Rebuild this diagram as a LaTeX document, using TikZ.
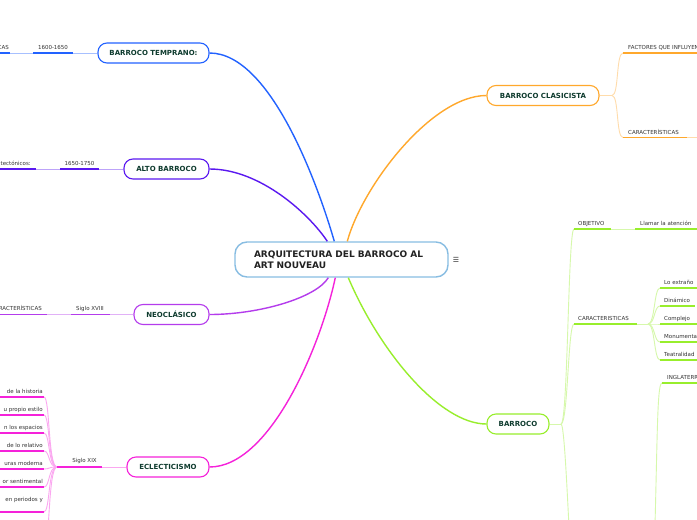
\documentclass[tikz,border=0pt]{standalone}
\usepackage{fontspec}
\setmainfont{DejaVu Sans}
\usetikzlibrary{calc}
\definecolor{cblue}{HTML}{2262FF}
\definecolor{cindigo}{HTML}{5A18F0}
\definecolor{cpurple}{HTML}{B43CEC}
\definecolor{cmag}{HTML}{F522DA}
\definecolor{corange}{HTML}{FFA82C}
\definecolor{cgreen}{HTML}{98EE2C}
\definecolor{ccenter}{HTML}{88BDE2}
\definecolor{ntext}{HTML}{0E3B2E}
\definecolor{ctext}{HTML}{222222}
\definecolor{ltext}{HTML}{333333}
\tikzset{
 branch/.style={draw=#1, line width=1.1pt, rounded corners=9pt, fill=white, minimum height=20pt, inner xsep=0pt, font=\bfseries\fontsize{7}{8}\selectfont, text=ntext},
 mainlink/.style={draw=#1, line width=1.4pt},
 ul/.style={draw=#1, line width=1.8pt},
 lk/.style={draw=#1!40, line width=0.9pt},
 lbl/.style={font=\fontsize{5.5}{6.6}\selectfont, text=ltext, inner sep=0pt},
}
\begin{document}
\begin{tikzpicture}[x=1pt,y=-1pt]
\useasboundingbox (0,0) rectangle (697,520);
\clip (0,0) rectangle (697,520);
\fill[white] (0,0) rectangle (697,520);

% central node
\node[draw=ccenter, line width=1.4pt, rounded corners=12pt, fill=white, text width=175pt, inner xsep=19pt, minimum height=35pt, align=left, font=\bfseries\fontsize{9}{10.7}\selectfont, text=ctext] (c) at (341.5,259.5) {ARQUITECTURA DEL BARROCO AL\\ART NOUVEAU};
\node[font=\fontsize{7}{8}\selectfont, text=ltext, inner sep=0pt] (menu) at (456,260) {☰};

% branch nodes
\node[branch=cblue, minimum width=111pt] (bt) at (153.5,53) {BARROCO TEMPRANO:};
\node[branch=cindigo, minimum width=85pt] (ab) at (166.5,169) {ALTO BARROCO};
\node[branch=cpurple, minimum width=75pt] (neo) at (171.5,314.5) {NEOCLÁSICO};
\node[branch=cmag, minimum width=82pt] (ecl) at (168,467) {ECLECTICISMO};
\node[branch=corange, minimum width=112pt] (bc) at (543,95.5) {BARROCO CLASICISTA};
\node[branch=cgreen, minimum width=62pt] (bar) at (518,424) {BARROCO};

% anchor points on the central node
\coordinate (cbt) at ($(c.north west)+(100,0)$);
\coordinate (cab) at ($(c.north west)+(93,0)$);
\coordinate (cbc) at ($(c.north west)+(113,0)$);
\coordinate (cneo) at ($(c.south west)+(94,0)$);
\coordinate (cecl) at ($(c.south west)+(101,0)$);
\coordinate (cbar) at ($(c.south west)+(114,0)$);

% main curves
\draw[mainlink=cblue] (bt.east) .. controls +(62,0) and +(-15,-52) .. (cbt);
\draw[mainlink=cindigo] (ab.east) .. controls +(51,0) and +(-18,-27) .. (cab);
\draw[mainlink=cpurple] (neo.east) .. controls +(50,0) and +(-12,20) .. (cneo);
\draw[mainlink=cmag] (ecl.east) .. controls +(60,0) and +(-15,70) .. (cecl);
\draw[mainlink=corange] (cbc) .. controls +(15,-55) and +(-55,0) .. (bc.west);
\draw[mainlink=cgreen] (cbar) .. controls +(31,73) and +(-47,0) .. (bar.west);

% ---------- BARROCO TEMPRANO ----------
\node[lbl, anchor=base] (bt1) at (53,49.5) {1600-1650};
\coordinate (bt1l) at (33,53); \coordinate (bt1r) at (73,53);
\node[lbl, anchor=base east] (bt2) at (9,49.5) {CARACTERÍSTICAS};
\coordinate (bt2l) at (-80,53); \coordinate (bt2r) at (9.5,53);
\draw[lk=cblue] (bt.west) -- (bt1r);
\draw[lk=cblue] (bt1l) -- (bt2r);
\draw[ul=cblue] (bt1l) -- (bt1r);
\draw[ul=cblue] (bt2l) -- (bt2r);

% ---------- ALTO BARROCO ----------
\node[lbl, anchor=base] (ab1) at (79.5,165.5) {1650-1750};
\coordinate (ab1l) at (60,169); \coordinate (ab1r) at (99,169);
\node[lbl, anchor=base east] (ab2) at (31,165.5) {Elementos arquitectónicos:};
\coordinate (ab2l) at (-90,169); \coordinate (ab2r) at (36,169);
\draw[lk=cindigo] (ab.west) -- (ab1r);
\draw[lk=cindigo] (ab1l) -- (ab2r);
\draw[ul=cindigo] (ab1l) -- (ab1r);
\draw[ul=cindigo] (ab2l) -- (ab2r);

% ---------- NEOCLASICO ----------
\node[lbl, anchor=base] (neo1) at (90,310.5) {Siglo XVIII};
\coordinate (neo1l) at (71,314.5); \coordinate (neo1r) at (110,314.5);
\node[lbl, anchor=base east] (neo2) at (42,310.5) {CARACTERÍSTICAS};
\coordinate (neo2l) at (-80,314.5); \coordinate (neo2r) at (47,314.5);
\draw[lk=cpurple] (neo.west) -- (neo1r);
\draw[lk=cpurple] (neo1l) -- (neo2r);
\draw[ul=cpurple] (neo1l) -- (neo1r);
\draw[ul=cpurple] (neo2l) -- (neo2r);

% ---------- ECLECTICISMO ----------
\node[lbl, anchor=base] (ecl1) at (84.5,462.5) {Siglo XIX};
\coordinate (ecl1l) at (57,467); \coordinate (ecl1r) at (102,467);
\draw[lk=cmag] (ecl.west) -- (ecl1r);
\foreach \i/\y/\b/\t in {a/397/393/{de la historia}, b/415/411/{u propio estilo}, c/433/429/{n los espacios}, d/451/447/{de lo relativo}, e/469/465/{uras moderna}, f/487/483/{or sentimental}, g/512/501.5/{en periodos y}}{
  \node[lbl, anchor=base east] (e\i) at (43,\b) {\t};
  \coordinate (e\i r) at (44,\y); \coordinate (e\i l) at (-60,\y);
  \draw[lk=cmag] (ecl1l) .. controls +(-9,0) and +(6,0) .. (e\i r);
  \draw[ul=cmag] (e\i l) -- (e\i r);
}
\coordinate (ehr) at (44,548);
\draw[lk=cmag] (ecl1l) .. controls +(-9,0) and +(6,0) .. (ehr);
\draw[ul=cmag] (ecl1l) -- (ecl1r);

% ---------- BARROCO CLASICISTA ----------
\coordinate (bcfan) at (612,95.5);
\draw[lk=corange] (bc.east) -- (bcfan);
\node[lbl, anchor=base west] (bc1) at (628,49.5) {FACTORES QUE INFLUYEN};
\coordinate (bc1l) at (623,53); \coordinate (bc1r) at (720,53);
\node[lbl, anchor=base west] (bc2) at (628,134) {CARACTERÍSTICAS};
\coordinate (bc2l) at (623,137.5); \coordinate (bc2r) at (687,137.5); \coordinate (bc2n) at (720,137.5);
\draw[lk=corange] (bcfan) .. controls +(7,0) and +(-7,0) .. (bc1l);
\draw[lk=corange] (bcfan) .. controls +(7,0) and +(-7,0) .. (bc2l);
\draw[lk=corange] (bc2r) -- (bc2n);
\draw[ul=corange] (bc1l) -- (bc1r);
\draw[ul=corange] (bc2l) -- (bc2r);

% ---------- BARROCO ----------
\coordinate (bfan) at (561,424);
\draw[lk=cgreen] (bar.east) -- (bfan);
\node[lbl, anchor=base west] (ob) at (578,225.5) {OBJETIVO};
\coordinate (obl) at (574,229); \coordinate (obr) at (611,229);
\node[lbl, anchor=base west] (ll) at (640,225.5) {Llamar la atención};
\coordinate (lll) at (635,229); \coordinate (llr) at (720,229);
\node[lbl, anchor=base west] (ca) at (578,320.5) {CARACTERISTICAS};
\coordinate (cal) at (574,324); \coordinate (car) at (637,324);
\coordinate (cfan) at (648,324);
\coordinate (bdown) at (576,640);
\draw[lk=cgreen] (bfan) .. controls +(7,0) and +(-6,0) .. (obl);
\draw[lk=cgreen] (bfan) .. controls +(7,0) and +(-6,0) .. (cal);
\draw[lk=cgreen] (bfan) .. controls +(5,0) and +(-6,-60) .. (bdown);
\draw[lk=cgreen] (obr) -- (lll);
\draw[lk=cgreen] (car) -- (cfan);
\draw[ul=cgreen] (obl) -- (obr);
\draw[ul=cgreen] (lll) -- (llr);
\draw[ul=cgreen] (cal) -- (car);
\foreach \i/\y/\e/\t in {a/288/697/{Lo extraño}, b/306/695/{Dinámico}, c/324/697/{Complejo}, d/342/720/{Monumental}, e/360/720/{Teatralidad}}{
  \node[lbl, anchor=base west] (k\i) at (664,\y-3.5) {\t};
  \coordinate (k\i l) at (660,\y); \coordinate (k\i r) at (\e,\y);
  \draw[lk=cgreen] (cfan) .. controls +(7,0) and +(-6,0) .. (k\i l);
  \draw[ul=cgreen] (k\i l) -- (k\i r);
}
\coordinate (gfan) at (652,620);
\node[lbl, anchor=base west] (ing) at (667,379.5) {INGLATERRA};
\coordinate (ingl) at (662,383); \coordinate (ingr) at (720,383);
\draw[lk=cgreen] (gfan) .. controls (658,460) and (656,383) .. (ingl);
\draw[ul=cgreen] (ingl) -- (ingr);
\end{tikzpicture}
\end{document}
